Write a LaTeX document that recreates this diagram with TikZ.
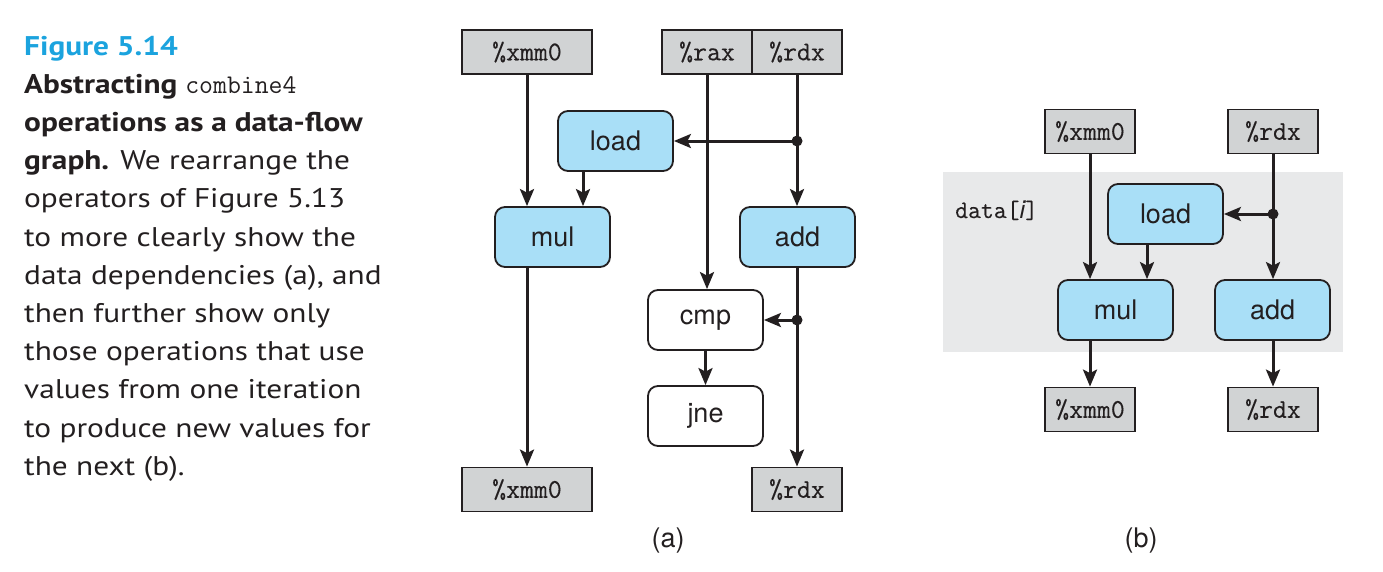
\documentclass[tikz,border=0pt]{standalone}
\usepackage{fontspec}
\usetikzlibrary{arrows.meta}
\newfontfamily\capfont[FakeStretch=1.16]{PT Sans}
\newfontfamily\helv{TeX Gyre Heros}
\newfontfamily\regmono[FakeBold=0.3]{Latin Modern Mono}
\definecolor{capblue}{HTML}{1BA3DE}
\definecolor{opblue}{HTML}{A9DFF7}
\definecolor{reggray}{HTML}{D1D3D4}
\definecolor{bggray}{HTML}{E8E9EA}
\definecolor{ink}{HTML}{231F20}
\tikzset{
 regbox/.style={draw=ink, line width=1.8pt, fill=reggray, minimum height=44pt, inner sep=0pt, font=\fontsize{27}{30}\selectfont\regmono, text=ink},
 opbox/.style={draw=ink, line width=1.8pt, rounded corners=10pt, fill=opblue, minimum width=115pt, minimum height=60pt, inner sep=0pt, font=\fontsize{27}{30}\selectfont\helv, text=ink},
 opwbox/.style={opbox, fill=white},
 flowarrow/.style={draw=ink, line width=3pt, -{Stealth[length=17pt,width=14pt,inset=3.5pt]}},
 jdot/.style={circle, fill=ink, inner sep=0pt, minimum size=11pt},
 captext/.style={anchor=base west, inner sep=0pt, font=\fontsize{27}{30}\selectfont\capfont, text=ink},
 sublabel/.style={inner sep=0pt, font=\fontsize{27}{30}\selectfont\helv, text=ink},
}
\begin{document}
\begin{tikzpicture}[x=1pt,y=-1pt]
\useasboundingbox (0,0) rectangle (1383,571);
% caption
\node[captext] (c1) at (24,55) {\bfseries\color{capblue}Figure 5.14};
\node[captext] (c2) at (24,93.2) {\bfseries Abstracting {\mdseries\ttfamily combine4}};
\node[captext] (c3) at (24,131.4) {\bfseries operations as a data-flow};
\node[captext] (c4) at (24,169.6) {\textbf{graph.} We rearrange the};
\node[captext] (c5) at (24,207.8) {operators of Figure 5.13};
\node[captext] (c6) at (24,246) {to more clearly show the};
\node[captext] (c7) at (24,284.2) {data dependencies (a), and};
\node[captext] (c8) at (24,322.4) {then further show only};
\node[captext] (c9) at (24,360.6) {those operations that use};
\node[captext] (c10) at (24,398.8) {values from one iteration};
\node[captext] (c11) at (24,437) {to produce new values for};
\node[captext] (c12) at (24,475.2) {the next (b).};
% (a)
\node[regbox, minimum width=130pt] (xa) at (527,52) {\%xmm0};
\node[regbox, minimum width=90pt] (rax) at (707,52) {\%rax};
\node[regbox, minimum width=90pt] (rdxa) at (797,52) {\%rdx};
\node[opbox] (loada) at (615.5,141) {load};
\node[opbox] (mula) at (552.5,237) {mul};
\node[opbox] (adda) at (797.5,237) {add};
\node[opwbox] (cmp) at (705.5,320) {cmp};
\node[opwbox] (jne) at (705.5,416) {jne};
\node[regbox, minimum width=130pt] (xb) at (527,489.5) {\%xmm0};
\node[regbox, minimum width=90pt] (rdxb) at (797,489.5) {\%rdx};
\node[sublabel] (la) at (668,541) {(a)};
\node[jdot] (d1) at (rdxa.south |- loada.east) {};
\node[jdot] (d2) at (rdxb.north |- cmp.east) {};
\draw[flowarrow] (xa.south) -- (xa.south |- mula.north);
\draw[flowarrow] ([xshift=-32.5pt]loada.south) -- ([xshift=-32.5pt]loada.south |- mula.north);
\draw[flowarrow] (rax.south) -- (rax.south |- cmp.north);
\draw[flowarrow] (rdxa.south) -- (rdxa.south |- adda.north);
\draw[flowarrow] (d1.center) -- (loada.east);
\draw[flowarrow] (rdxb.north |- adda.south) -- (rdxb.north);
\draw[flowarrow] (d2.center) -- (cmp.east);
\draw[flowarrow] (xb.north |- mula.south) -- (xb.north);
\draw[flowarrow] (cmp.south) -- (jne.north);
% (b)
\node[fill=bggray, minimum width=400pt, minimum height=180pt, inner sep=0pt] (bg) at (1143,262) {};
\node[anchor=base west, inner sep=0pt, font=\fontsize{25}{30}\selectfont\regmono, text=ink] (di) at (955,218) {data[{\helv\itshape i}]};
\node[regbox, minimum width=90pt] (xc) at (1090,131.5) {\%xmm0};
\node[regbox, minimum width=90pt] (rdxc) at (1273,131.5) {\%rdx};
\node[opbox] (loadb) at (1165.5,214) {load};
\node[opbox] (mulb) at (1115.5,310) {mul};
\node[opbox] (addb) at (1272.5,310) {add};
\node[regbox, minimum width=90pt] (xd) at (1090,409.5) {\%xmm0};
\node[regbox, minimum width=90pt] (rdxd) at (1273,409.5) {\%rdx};
\node[sublabel] (lb) at (1141,541) {(b)};
\node[jdot] (d3) at (rdxc.south |- loadb.east) {};
\draw[flowarrow] (xc.south) -- (xc.south |- mulb.north);
\draw[flowarrow] ([xshift=-18.5pt]loadb.south) -- ([xshift=-18.5pt]loadb.south |- mulb.north);
\draw[flowarrow] (rdxc.south) -- (rdxc.south |- addb.north);
\draw[flowarrow] (d3.center) -- (loadb.east);
\draw[flowarrow] (xd.north |- mulb.south) -- (xd.north);
\draw[flowarrow] (rdxd.north |- addb.south) -- (rdxd.north);
\end{tikzpicture}
\end{document}
